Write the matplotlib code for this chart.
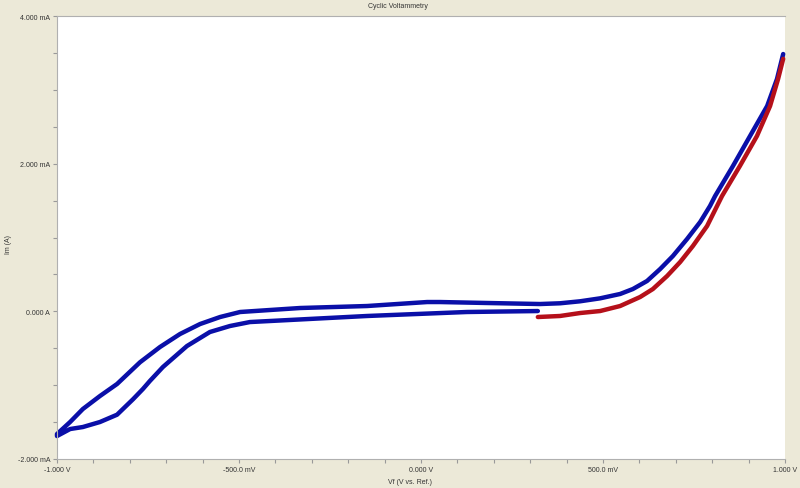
import matplotlib
matplotlib.use("Agg")
import matplotlib.pyplot as plt
from matplotlib.ticker import MultipleLocator, FixedLocator

# du lieu doc tu hinh (V, mA)
# nhanh do: quet thuan 0.32 V -> 1.0 V
red_v = [0.321, 0.382, 0.437, 0.492, 0.547, 0.602, 0.637, 0.676, 0.712, 0.747, 0.786,
         0.827, 0.876, 0.923, 0.959, 0.981, 0.995]
red_i = [-0.077, -0.063, -0.023, 0.004, 0.072, 0.194, 0.302, 0.478, 0.668, 0.885, 1.156,
         1.562, 1.968, 2.375, 2.781, 3.147, 3.420]

# nhanh xanh: 1.0 V -> -1.0 V
blue_back_v = [0.995, 0.978, 0.951, 0.904, 0.857, 0.808, 0.794, 0.767, 0.731, 0.692, 0.657,
               0.621, 0.582, 0.547, 0.492, 0.437, 0.382, 0.327, 0.181, 0.052, 0.017,
               -0.148, -0.332, -0.415, -0.497, -0.552, -0.607, -0.662, -0.717, -0.772,
               -0.835, -0.882, -0.929, -0.964, -1.0]
blue_back_i = [3.485, 3.147, 2.781, 2.375, 1.968, 1.562, 1.427, 1.210, 0.980, 0.749, 0.573,
               0.411, 0.302, 0.235, 0.176, 0.136, 0.109, 0.099, 0.113, 0.126, 0.126,
               0.072, 0.045, 0.018, -0.009, -0.077, -0.172, -0.307, -0.483, -0.690,
               -0.984, -1.147, -1.323, -1.499, -1.662]

# nhanh xanh: -1.0 V -> 0.32 V
blue_fwd_v = [-1.0, -0.964, -0.929, -0.882, -0.835, -0.791, -0.764, -0.745, -0.709, -0.643,
              -0.580, -0.525, -0.470, -0.415, -0.148, 0.126, 0.321]
blue_fwd_i = [-1.689, -1.594, -1.567, -1.499, -1.400, -1.190, -1.052, -0.944, -0.754, -0.470,
              -0.280, -0.199, -0.145, -0.131, -0.063, -0.009, 0.004]

x_ticks = [-1.0, -0.5, 0.0, 0.5, 1.0]
x_labels = ["-1.000 V", "-500.0 mV", "0.000 V", "500.0 mV", "1.000 V"]
y_ticks = [-2, 0, 2, 4]
y_labels = ["-2.000 mA", "0.000 A", "2.000 mA", "4.000 mA"]

bg = "#ECE9D8"
blue = "#0A0FA8"
red = "#B5101A"
txt = "#333333"

plt.rcParams["font.family"] = ["Liberation Sans", "DejaVu Sans"]

fig = plt.figure(figsize=(8, 4.89), dpi=100, facecolor=bg)
ax = fig.add_axes([57 / 800, 29 / 489, 728 / 800, 443 / 489])
ax.set_facecolor("white")

ax.plot(blue_back_v + blue_fwd_v, blue_back_i + blue_fwd_i, color=blue, lw=3.2,
        solid_capstyle="round", solid_joinstyle="round", clip_on=False, zorder=2)
ax.plot(red_v, red_i, color=red, lw=3.2, solid_capstyle="round",
        solid_joinstyle="round", clip_on=False, zorder=3)

ax.set_xlim(-1.0, 1.0)
ax.set_ylim(-2, 4)
ax.xaxis.set_major_locator(FixedLocator(x_ticks))
ax.yaxis.set_major_locator(FixedLocator(y_ticks))
ax.xaxis.set_minor_locator(MultipleLocator(0.1))
ax.yaxis.set_minor_locator(MultipleLocator(0.5))
ax.set_xticklabels(x_labels)
ax.set_yticklabels(y_labels)
ax.tick_params(which="both", direction="out", length=3, width=0.8, colors="#999999",
               labelcolor=txt, labelsize=5, pad=2)

ax.spines["right"].set_visible(False)
for side in ["left", "bottom", "top"]:
    ax.spines[side].set_color("#B0B0B0")
    ax.spines[side].set_linewidth(0.8)

fig.text(398 / 800, 1 - 6 / 489, "Cyclic Voltammetry", ha="center", va="center",
         fontsize=5, color=txt)
fig.text(410 / 800, 1 - 483 / 489, "Vf (V vs. Ref.)", ha="center", va="center",
         fontsize=5, color=txt)
fig.text(8 / 800, 1 - 245 / 489, "Im (A)", ha="center", va="center", rotation=90,
         fontsize=5, color=txt)

fig.savefig("out.png", dpi=100, facecolor=bg)
